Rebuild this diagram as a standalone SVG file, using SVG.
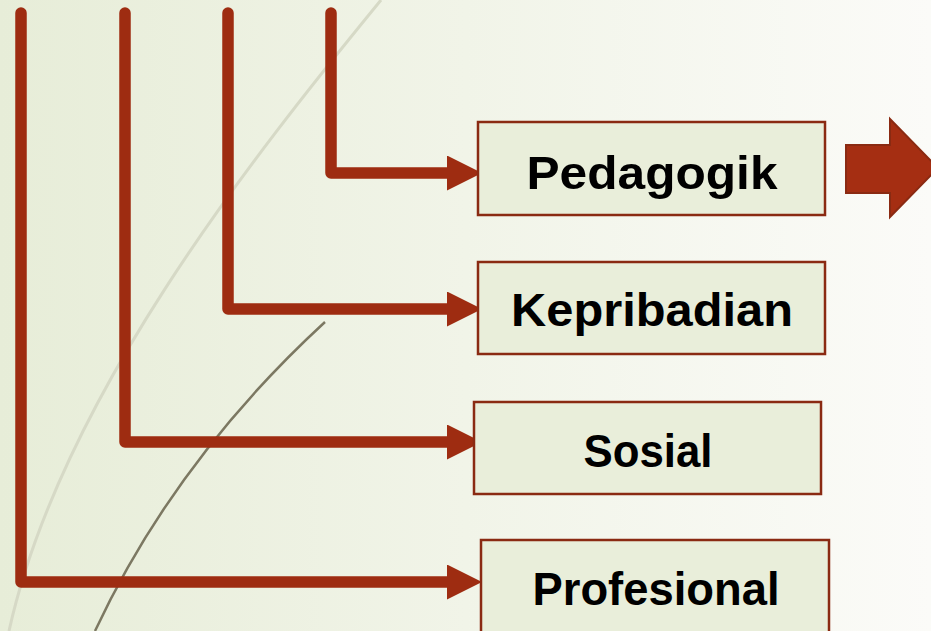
<svg xmlns="http://www.w3.org/2000/svg" width="931" height="631" viewBox="0 0 931 631">
  <style>
    .conn { fill: none; stroke: #9E2C11; stroke-width: 11.5; stroke-linecap: round; stroke-linejoin: round; }
    .box { fill: #E9EEDA; stroke: #8A2A12; stroke-width: 2.5; }
    .lbl { font-family: "Liberation Sans", Arial, sans-serif; font-weight: bold; font-size: 47px; fill: #000; text-anchor: middle; }
  </style>
  <defs>
    <linearGradient id="bg" x1="0" y1="0" x2="1" y2="0">
      <stop offset="0" stop-color="#E7EDD8"/>
      <stop offset="0.5" stop-color="#F1F4E8"/>
      <stop offset="1" stop-color="#FBFBF8"/>
    </linearGradient>
    <marker id="ah" viewBox="0 0 35 35" refX="2" refY="17.5" markerWidth="35" markerHeight="35" markerUnits="userSpaceOnUse" orient="auto">
      <path d="M0,0 L35,17.5 L0,35 Z" fill="#9E2C11"/>
    </marker>
  </defs>
  <rect width="931" height="631" fill="url(#bg)"/>
  <g id="decor">
    <path d="M381,0 C250,160 60,400 9,631" fill="none" stroke="#D6D9C6" stroke-width="3"/>
    <path d="M325,322 Q175,460 95,631" fill="none" stroke="#7C7862" stroke-width="2.5"/>
  </g>
  <g id="connectors">
    <path class="conn" d="M331,13 V173 H449" marker-end="url(#ah)"/>
    <path class="conn" d="M228,13 V309 H449" marker-end="url(#ah)"/>
    <path class="conn" d="M125,13 V442 H449" marker-end="url(#ah)"/>
    <path class="conn" d="M21,13 V582 H449" marker-end="url(#ah)"/>
  </g>
  <g id="pedagogik">
    <rect class="box" x="478" y="122" width="347" height="93"/>
    <text class="lbl" x="652" y="189" textLength="251" lengthAdjust="spacingAndGlyphs">Pedagogik</text>
  </g>
  <g id="kepribadian">
    <rect class="box" x="478" y="262" width="347" height="92"/>
    <text class="lbl" x="652" y="326" textLength="282" lengthAdjust="spacingAndGlyphs">Kepribadian</text>
  </g>
  <g id="sosial">
    <rect class="box" x="474" y="402" width="347" height="92"/>
    <text class="lbl" x="648" y="467" textLength="129" lengthAdjust="spacingAndGlyphs">Sosial</text>
  </g>
  <g id="profesional">
    <rect class="box" x="481" y="540" width="348" height="100"/>
    <text class="lbl" x="656" y="605" textLength="247" lengthAdjust="spacingAndGlyphs">Profesional</text>
  </g>
  <g id="block-arrow">
    <polygon points="846,145 890,145 890,119 938,168 890,217 890,193 846,193" fill="#A52E12" stroke="#8A2A12" stroke-width="2"/>
  </g>
</svg>
